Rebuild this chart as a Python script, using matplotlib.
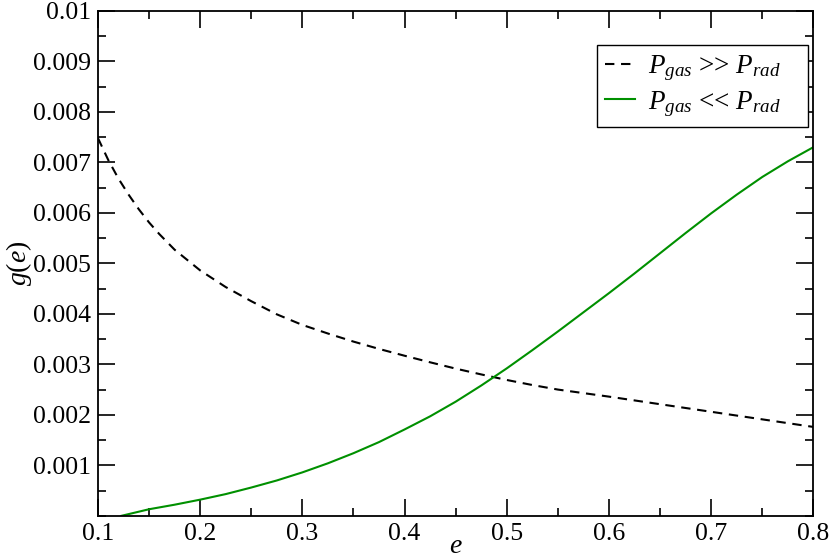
import matplotlib
matplotlib.use("Agg")
import matplotlib.pyplot as plt
from matplotlib.ticker import MultipleLocator

plt.rcParams['font.family'] = ['Liberation Serif', 'DejaVu Serif']
plt.rcParams['mathtext.fontset'] = 'custom'
plt.rcParams['mathtext.rm'] = 'Liberation Serif'
plt.rcParams['mathtext.it'] = 'Liberation Serif:italic'
plt.rcParams['mathtext.bf'] = 'Liberation Serif:bold'

# Data
e_gas = [0.10, 0.11, 0.12, 0.13, 0.14, 0.15, 0.16, 0.175, 0.20, 0.225, 0.25, 0.275,
         0.30, 0.325, 0.35, 0.375, 0.40, 0.425, 0.45, 0.475, 0.50, 0.525, 0.55,
         0.575, 0.60, 0.65, 0.70, 0.75, 0.80]
g_gas = [7.48e-3, 7.05e-3, 6.68e-3, 6.36e-3, 6.07e-3, 5.81e-3, 5.58e-3, 5.27e-3,
         4.86e-3, 4.53e-3, 4.25e-3, 3.99e-3, 3.78e-3, 3.61e-3, 3.45e-3, 3.305e-3,
         3.17e-3, 3.04e-3, 2.915e-3, 2.80e-3, 2.69e-3, 2.59e-3, 2.50e-3, 2.43e-3,
         2.36e-3, 2.21e-3, 2.06e-3, 1.91e-3, 1.76e-3]

e_rad = [0.123, 0.15, 0.175, 0.20, 0.225, 0.25, 0.275, 0.30, 0.325, 0.35, 0.375,
         0.40, 0.425, 0.45, 0.475, 0.50, 0.525, 0.55, 0.575, 0.60, 0.625, 0.65,
         0.675, 0.70, 0.725, 0.75, 0.775, 0.80]
g_rad = [0.0, 0.13e-3, 0.22e-3, 0.32e-3, 0.43e-3, 0.56e-3, 0.70e-3, 0.86e-3,
         1.04e-3, 1.24e-3, 1.46e-3, 1.71e-3, 1.97e-3, 2.26e-3, 2.58e-3, 2.92e-3,
         3.28e-3, 3.65e-3, 4.03e-3, 4.41e-3, 4.80e-3, 5.20e-3, 5.60e-3, 5.99e-3,
         6.36e-3, 6.71e-3, 7.02e-3, 7.30e-3]

x_ticks = [0.1, 0.2, 0.3, 0.4, 0.5, 0.6, 0.7, 0.8]
x_ticklabels = ['0.1', '0.2', '0.3', '0.4', '0.5', '0.6', '0.7', '0.8']
y_ticks = [0.001, 0.002, 0.003, 0.004, 0.005, 0.006, 0.007, 0.008, 0.009, 0.01]
y_ticklabels = ['0.001', '0.002', '0.003', '0.004', '0.005', '0.006', '0.007',
                '0.008', '0.009', '0.01']

label_gas = r'$P_{gas}$ >> $P_{rad}$'
label_rad = r'$P_{gas}$ << $P_{rad}$'

fig = plt.figure(figsize=(8.3, 5.58), dpi=100)
ax = fig.add_axes([0.118, 0.0756, 0.862, 0.905])

ax.plot(e_gas, g_gas, color='black', lw=1.5, linestyle=(0, (4.5, 3.2)), label=label_gas)
ax.plot(e_rad, g_rad, color='#009000', lw=1.5, label=label_rad)

ax.set_xlim(0.1, 0.8)
ax.set_ylim(0.0, 0.01)
ax.set_xticks(x_ticks)
ax.set_xticklabels(x_ticklabels)
ax.set_yticks(y_ticks)
ax.set_yticklabels(y_ticklabels)
ax.xaxis.set_minor_locator(MultipleLocator(0.05))
ax.yaxis.set_minor_locator(MultipleLocator(0.0005))

ax.tick_params(which='both', direction='in', top=True, right=True, width=1.2,
               labelsize=18.5, colors='black')
ax.tick_params(which='major', length=12.5, pad=5)
ax.tick_params(which='minor', length=6)
for s in ax.spines.values():
    s.set_linewidth(1.3)

ax.set_xlabel(r'$e$', fontsize=20, labelpad=-8)
ax.set_ylabel(r'$g(e)$', fontsize=20, labelpad=-1)

leg = ax.legend(loc='upper left', bbox_to_anchor=(0.6977, 0.0, 0.2949, 0.932),
                mode='expand', borderaxespad=0,
                fancybox=False, edgecolor='black', framealpha=1, fontsize=19.5,
                handlelength=1.1, handletextpad=0.48, borderpad=0.3, labelspacing=0.22)
leg.get_frame().set_linewidth(1.0)

fig.savefig('out.png', dpi=100)
